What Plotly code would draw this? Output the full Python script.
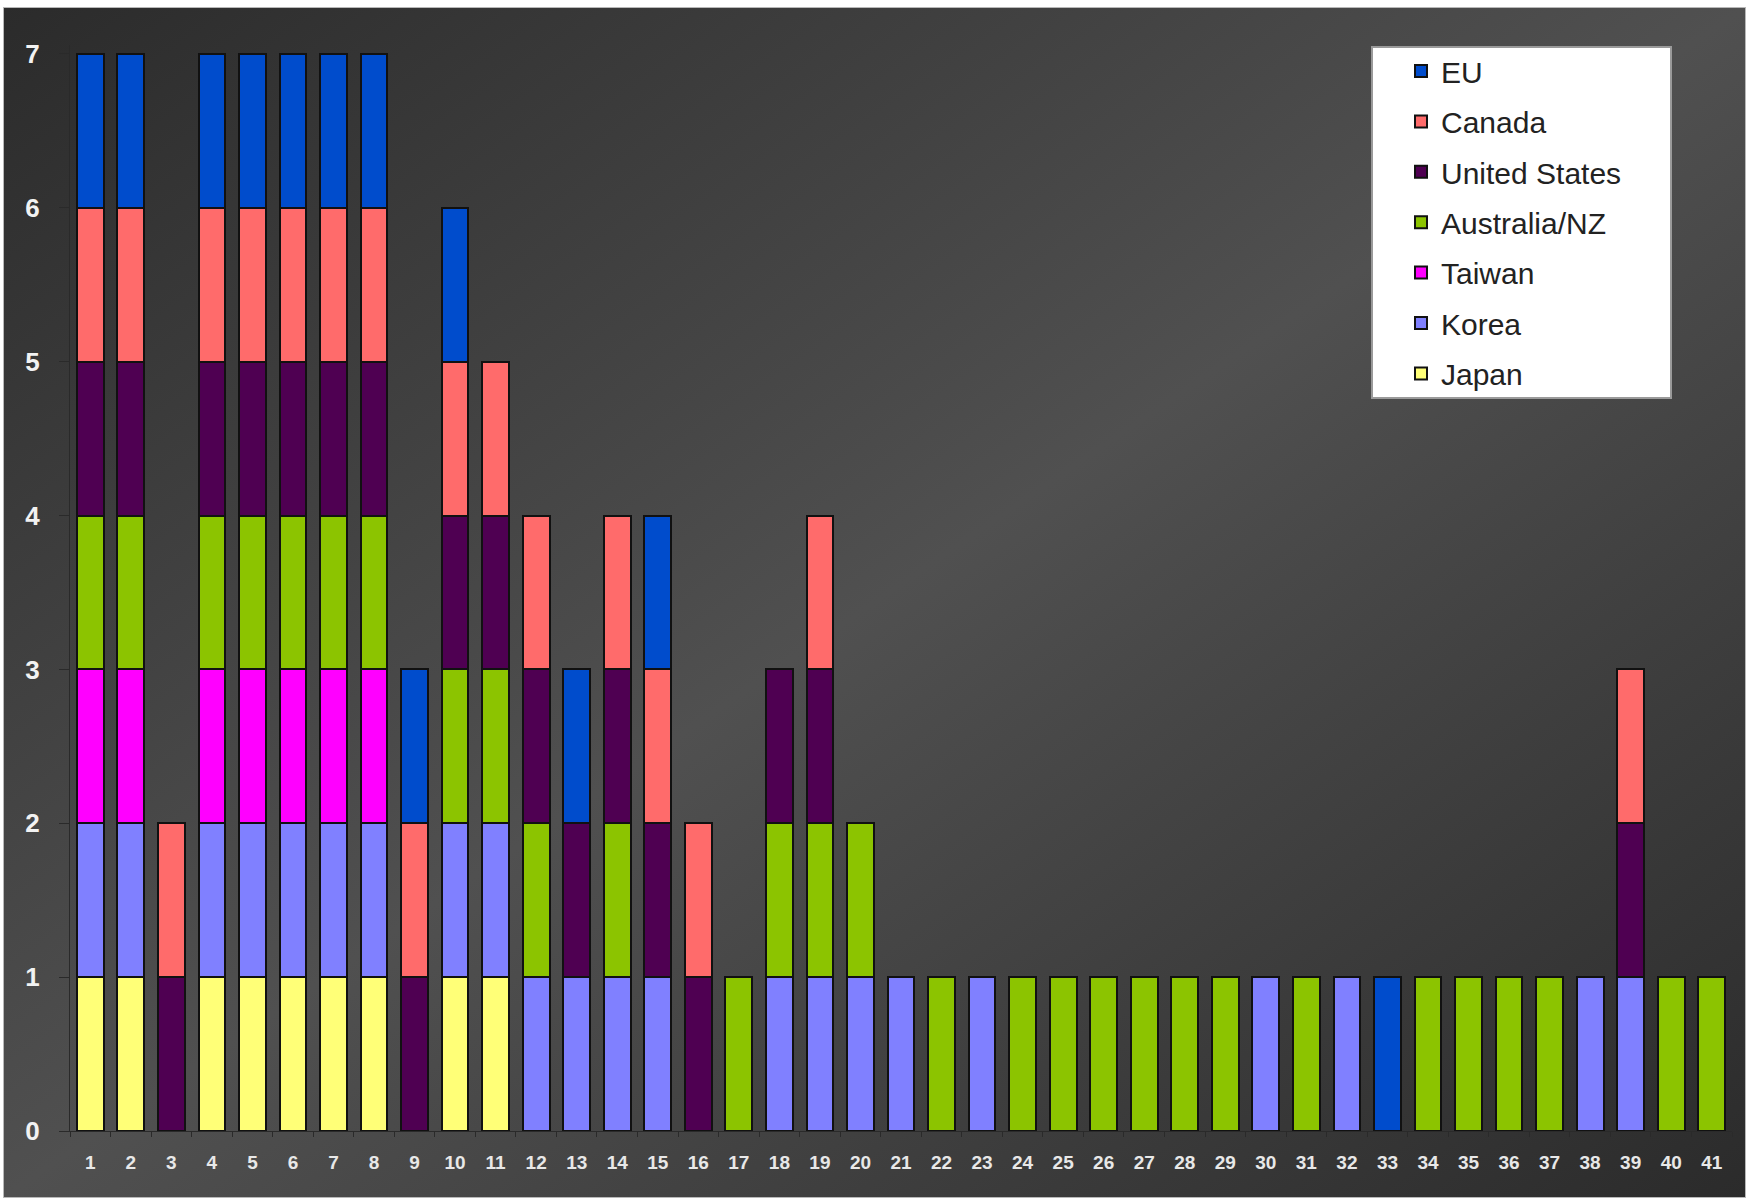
import base64
import plotly.graph_objects as go

categories = [str(i) for i in range(1, 42)]

# 1 = the country is present in that column, 0 = absent (stack order bottom -> top)
japan = [1,1,0,1,1,1,1,1,0,1,1,0,0,0,0,0,0,0,0,0,0,0,0,0,0,0,0,0,0,0,0,0,0,0,0,0,0,0,0,0,0]
korea = [1,1,0,1,1,1,1,1,0,1,1,1,1,1,1,0,0,1,1,1,1,0,1,0,0,0,0,0,0,1,0,1,0,0,0,0,0,1,1,0,0]
taiwan = [1,1,0,1,1,1,1,1,0,0,0,0,0,0,0,0,0,0,0,0,0,0,0,0,0,0,0,0,0,0,0,0,0,0,0,0,0,0,0,0,0]
australia_nz = [1,1,0,1,1,1,1,1,0,1,1,1,0,1,0,0,1,1,1,1,0,1,0,1,1,1,1,1,1,0,1,0,0,1,1,1,1,0,0,1,1]
united_states = [1,1,1,1,1,1,1,1,1,1,1,1,1,1,1,1,0,1,1,0,0,0,0,0,0,0,0,0,0,0,0,0,0,0,0,0,0,0,1,0,0]
canada = [1,1,1,1,1,1,1,1,1,1,1,1,0,1,1,1,0,0,1,0,0,0,0,0,0,0,0,0,0,0,0,0,0,0,0,0,0,0,1,0,0]
eu = [1,1,0,1,1,1,1,1,1,1,0,0,1,0,1,0,0,0,0,0,0,0,0,0,0,0,0,0,0,0,0,0,1,0,0,0,0,0,0,0,0]

series = [
    ("Japan", japan, "#ffff77"),
    ("Korea", korea, "#8080ff"),
    ("Taiwan", taiwan, "#ff00ff"),
    ("Australia/NZ", australia_nz, "#8cc400"),
    ("United States", united_states, "#4f0052"),
    ("Canada", canada, "#ff6b6b"),
    ("EU", eu, "#004ccc"),
]

y_ticks = [0, 1, 2, 3, 4, 5, 6, 7]

W, H = 1746, 1202
L, R, T, B = 70, 14, 45, 71
pw, ph = W - L - R, H - T - B
y_top = 7.058

fig = go.Figure()
n = len(series)
for i, (name, vals, color) in enumerate(series):
    fig.add_trace(go.Bar(
        x=categories,
        y=[v if v else None for v in vals],
        name=name,
        legendgroup=name,
        legendrank=n - i,
        marker=dict(color=color, line=dict(color="#111111", width=2)),
    ))

def px_x(p):
    return (p - L) / pw

def px_y(p):
    return (H - B - p) / ph

svg = ('<svg xmlns="http://www.w3.org/2000/svg" width="1743" height="1191" '
       'viewBox="0 0 1743 1191" preserveAspectRatio="none"><defs>'
       '<linearGradient id="g" x1="0" y1="0" x2="1" y2="1">'
       '<stop offset="0" stop-color="#2b2b2b"/><stop offset="0.5" stop-color="#505050"/>'
       '<stop offset="1" stop-color="#2b2b2b"/></linearGradient></defs>'
       '<rect x="0" y="0" width="1743" height="1191" fill="url(#g)" stroke="#b8b8b8" stroke-width="2"/></svg>')
src = "data:image/svg+xml;base64," + base64.b64encode(svg.encode()).decode()

fig.update_layout(
    width=W, height=H,
    margin=dict(l=L, r=R, t=T, b=B, pad=0),
    barmode="stack",
    bargap=0.34,
    paper_bgcolor="white",
    plot_bgcolor="rgba(0,0,0,0)",
    font=dict(family="Liberation Sans, Arial, sans-serif"),
    images=[dict(source=src, xref="paper", yref="paper",
                 x=px_x(3), y=px_y(7), sizex=(1746 - 3) / pw, sizey=(1198 - 7) / ph,
                 xanchor="left", yanchor="top", sizing="stretch", layer="below")],
    shapes=[dict(type="rect", xref="paper", yref="paper",
                 x0=px_x(1372), x1=px_x(1671), y0=px_y(398), y1=px_y(47),
                 fillcolor="white", line=dict(color="#9a9a9a", width=2), layer="below")],
    legend=dict(
        x=px_x(1401), y=px_y(45), xanchor="left", yanchor="top",
        bgcolor="rgba(0,0,0,0)", borderwidth=0,
        traceorder="grouped", tracegroupgap=8.4,
        font=dict(size=30, color="#222222", family="Liberation Sans, Arial, sans-serif"),
    ),
    xaxis=dict(
        type="category", range=[-0.5, 40.5],
        showgrid=False, zeroline=False,
        showline=True, linecolor="#2a2a2a", linewidth=1,
        ticks="outside", tickson="boundaries", ticklen=5, tickcolor="#2a2a2a",
        tickfont=dict(size=19, color="#e8e8e8", family="Liberation Sans, Arial, sans-serif", weight="bold"),
        ticklabelstandoff=14,
    ),
    yaxis=dict(
        range=[0, y_top], tickvals=y_ticks, ticktext=[str(v) for v in y_ticks],
        showgrid=False, zeroline=False,
        showline=True, linecolor="#2a2a2a", linewidth=1,
        ticks="outside", ticklen=10, tickcolor="#2a2a2a",
        tickfont=dict(size=26, color="#f2f2f2", family="Liberation Sans, Arial, sans-serif", weight="bold"),
        ticklabelstandoff=14,
    ),
)

fig.write_html("out.html")
